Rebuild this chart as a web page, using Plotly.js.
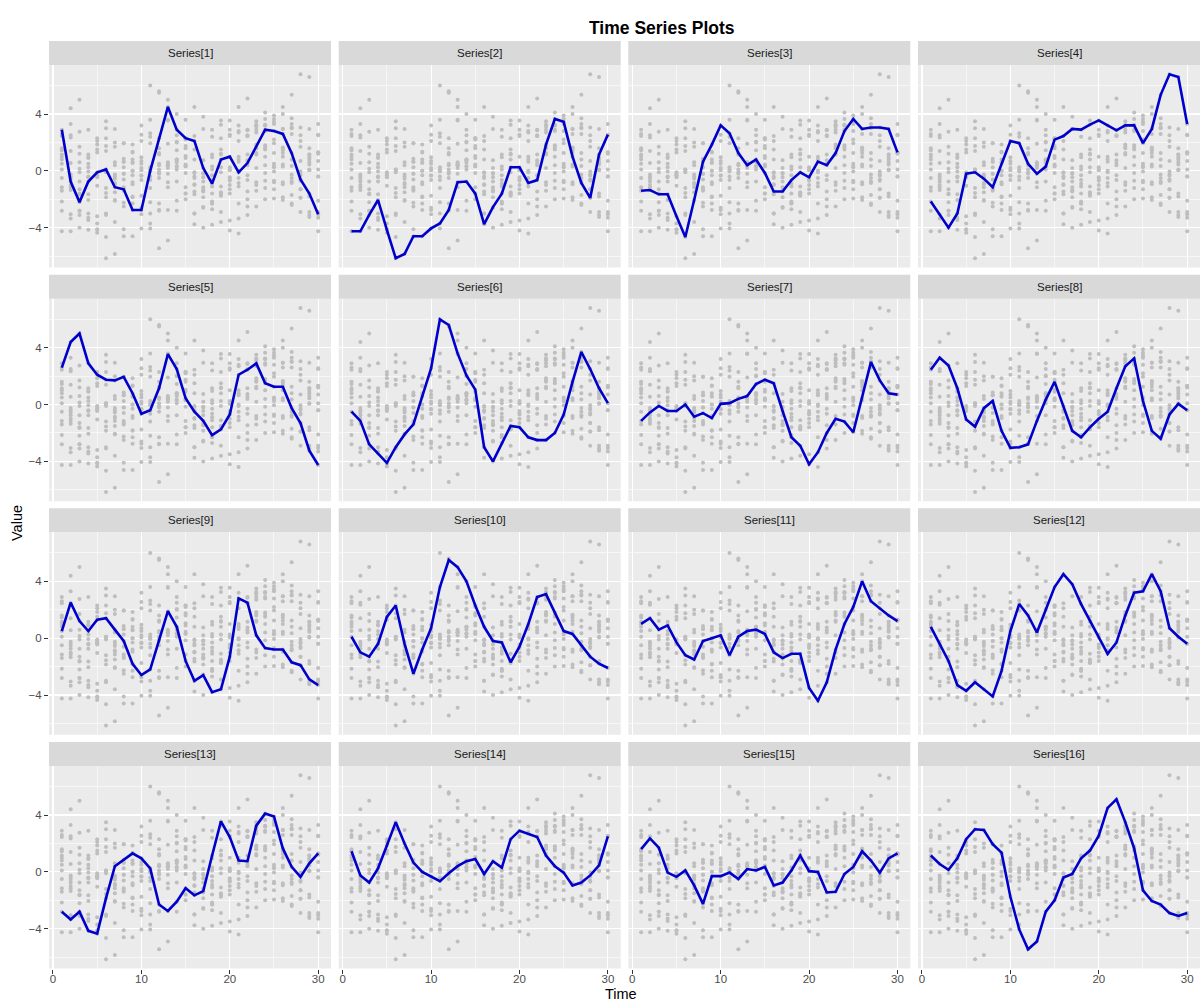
<!DOCTYPE html>
<html>
<head>
<meta charset="utf-8">
<script src="https://cdn.plot.ly/plotly-3.0.1.min.js"></script>
<style>html,body{margin:0;padding:0;background:#fff;}#chart{width:1201px;height:1003px;}</style>
</head>
<body>
<div id="chart"></div>
<script>
// ---- data ----
const time = [1,2,3,4,5,6,7,8,9,10,11,12,13,14,15,16,17,18,19,20,21,22,23,24,25,26,27,28,29,30];
const s1  = [2.9,-0.75,-2.2,-0.75,-0.1,0.1,-1.15,-1.3,-2.75,-2.75,0.0,2.3,4.5,2.9,2.3,2.1,0.2,-0.9,0.8,1.0,-0.1,0.55,1.7,2.9,2.8,2.6,1.25,-0.6,-1.6,-3.05];
const s2  = [-4.25,-4.25,-3.1,-2.05,-4.15,-6.15,-5.85,-4.6,-4.6,-4.05,-3.7,-2.75,-0.8,-0.75,-1.6,-3.75,-2.55,-1.6,0.25,0.25,-0.85,-0.65,1.85,3.65,3.45,1.0,-0.85,-1.9,1.15,2.55];
const s3  = [-1.4,-1.35,-1.65,-1.65,-3.2,-4.65,-2.05,0.65,1.85,3.2,2.65,1.25,0.4,0.8,-0.15,-1.45,-1.45,-0.65,-0.1,-0.45,0.65,0.4,1.25,2.8,3.65,2.95,3.05,3.05,2.95,1.3];
const s4  = [-2.15,-3.05,-4.0,-3.0,-0.2,-0.1,-0.55,-1.15,0.55,2.1,1.95,0.5,-0.2,0.3,2.2,2.45,2.95,2.9,3.25,3.55,3.2,2.85,3.2,3.2,1.95,2.95,5.35,6.8,6.6,3.3];
const s5  = [2.6,4.4,5.0,2.9,2.1,1.75,1.7,1.95,0.8,-0.65,-0.4,1.15,3.55,2.5,0.45,-0.5,-1.15,-2.15,-1.75,-0.7,2.1,2.45,2.9,1.5,1.25,1.25,-0.25,-1.3,-3.25,-4.25];
const s6  = [-0.5,-1.15,-2.8,-3.45,-4.1,-3.0,-2.1,-1.4,0.6,2.55,6.0,5.6,3.6,2.05,1.05,-3.0,-4.0,-2.7,-1.5,-1.6,-2.3,-2.5,-2.5,-2.0,-0.7,1.6,3.7,2.5,1.15,0.1];
const s7  = [-1.15,-0.55,-0.1,-0.45,-0.45,0.0,-0.85,-0.6,-0.95,0.05,0.1,0.4,0.6,1.45,1.75,1.5,-0.45,-2.3,-2.9,-4.2,-3.35,-2.0,-1.0,-1.2,-1.95,0.45,3.0,1.7,0.8,0.7];
const s8  = [2.45,3.3,2.75,1.15,-1.05,-1.55,-0.25,0.25,-1.85,-3.05,-3.0,-2.8,-1.15,0.35,1.6,-0.1,-1.85,-2.3,-1.6,-1.0,-0.5,1.15,2.7,3.25,0.25,-1.85,-2.4,-0.7,0.05,-0.4];
const s9  = [0.5,2.5,1.2,0.5,1.3,1.4,0.6,-0.2,-1.8,-2.6,-2.2,-0.2,1.9,0.8,-1.6,-3.0,-2.6,-3.8,-3.6,-1.3,2.8,2.5,0.2,-0.7,-0.8,-0.8,-1.7,-1.9,-2.9,-3.3];
const s10 = [0.1,-1.0,-1.3,-0.4,1.5,2.3,-0.4,-2.5,-0.8,0.7,3.6,5.5,5.0,4.0,2.3,0.8,-0.2,-0.3,-1.7,-0.6,1.0,2.9,3.1,1.8,0.5,0.3,-0.5,-1.3,-1.8,-2.1];
const s11 = [1.0,1.4,0.6,0.9,-0.3,-1.2,-1.5,-0.2,0.0,0.2,-1.2,0.1,0.5,0.6,0.3,-1.0,-1.4,-1.1,-1.1,-3.5,-4.4,-3.1,-0.8,1.0,2.2,4.0,2.6,2.1,1.6,1.2];
const s12 = [0.8,-0.4,-1.6,-3.3,-3.7,-3.1,-3.6,-4.1,-2.3,0.5,2.4,1.6,0.4,2.0,3.6,4.5,3.8,2.4,1.2,0.1,-1.1,-0.3,1.6,3.2,3.3,4.5,3.3,0.7,0.1,-0.4];
const s13 = [-2.8,-3.35,-2.8,-4.15,-4.35,-1.85,0.4,0.85,1.3,0.95,0.25,-2.3,-2.75,-2.1,-1.15,-1.65,-1.35,1.15,3.55,2.45,0.8,0.75,3.25,4.1,3.9,1.65,0.35,-0.35,0.6,1.3];
const s14 = [1.45,-0.25,-0.75,0.25,1.85,3.5,2.0,0.65,0.0,-0.35,-0.65,-0.1,0.4,0.75,0.9,-0.15,0.75,0.3,2.3,2.9,2.7,2.45,1.15,0.4,-0.05,-0.95,-0.75,-0.25,0.45,2.5];
const s15 = [1.6,2.35,1.7,-0.05,-0.35,0.1,-0.95,-2.25,-0.3,-0.3,-0.05,-0.5,0.2,0.1,0.35,-0.95,-0.75,0.1,1.15,0.05,0.0,-1.45,-1.4,-0.15,0.35,1.45,0.8,-0.05,0.95,1.3];
const s16 = [1.15,0.55,0.15,0.95,2.3,3.0,2.95,1.95,1.35,-1.75,-4.05,-5.45,-4.9,-2.8,-2.0,-0.4,-0.15,0.95,1.5,2.55,4.5,5.1,3.5,1.65,-1.3,-2.05,-2.3,-2.9,-3.1,-2.9];
const seriesNames = ['Series[1]','Series[2]','Series[3]','Series[4]','Series[5]','Series[6]','Series[7]','Series[8]',
                     'Series[9]','Series[10]','Series[11]','Series[12]','Series[13]','Series[14]','Series[15]','Series[16]'];
const xTicks = [0,10,20,30];
const yTicks = [-4,0,4];

const series = [s1,s2,s3,s4,s5,s6,s7,s8,s9,s10,s11,s12,s13,s14,s15,s16];

// all points (background cloud)
const allX = [], allY = [];
series.forEach(s => s.forEach((v,i) => { allX.push(time[i]); allY.push(v); }));

// ---- layout geometry (pixels) ----
const W = 1201, H = 1003;
const colLeft = [49, 338.7, 628.3, 918];
const panelW = 282;
const stripTop = [41, 274.7, 508.3, 742];
const stripH = 24;
const panelH = 202.5;
const px = v => v / W;
const py = v => 1 - v / H;

const FONT = '"Liberation Sans", Arial, sans-serif';
const traces = [];
const layout = {
  width: W, height: H,
  margin: {l:0, r:0, t:0, b:0},
  paper_bgcolor: '#FFFFFF',
  plot_bgcolor: '#EBEBEB',
  showlegend: false,
  font: {family: FONT, color: '#4D4D4D'},
  shapes: [], annotations: []
};

series.forEach((s, k) => {
  const r = Math.floor(k / 4), c = k % 4;
  const n = k + 1;
  const xa = n === 1 ? 'x' : 'x' + n;
  const ya = n === 1 ? 'y' : 'y' + n;
  const xKey = n === 1 ? 'xaxis' : 'xaxis' + n;
  const yKey = n === 1 ? 'yaxis' : 'yaxis' + n;
  const x0 = colLeft[c], x1 = x0 + panelW;
  const pTop = stripTop[r] + stripH, pBot = pTop + panelH;
  const bottomRow = r === 3, leftCol = c === 0;

  layout[xKey] = {
    domain: [px(x0), px(x1)], anchor: ya,
    range: [-0.45, 31.45], tickmode: 'array', tickvals: xTicks,
    showticklabels: bottomRow, ticks: bottomRow ? 'outside' : '', ticklen: 4, tickwidth: 1, tickcolor: '#333333',
    ticklabelstandoff: -4,
    tickfont: {family: FONT, size: 11.5, color: '#4D4D4D'},
    showgrid: true, gridcolor: '#FFFFFF', gridwidth: 1.1, zeroline: false, showline: false,
    minor: {tickmode: 'array', tickvals: [5,15,25], showgrid: true, gridcolor: '#FFFFFF', gridwidth: 0.55, ticks: ''},
    fixedrange: true
  };
  layout[yKey] = {
    domain: [py(pBot), py(pTop)], anchor: xa,
    range: [-6.8, 7.45], tickmode: 'array', tickvals: yTicks,
    showticklabels: leftCol, ticks: leftCol ? 'outside' : '', ticklen: 4, tickwidth: 1, tickcolor: '#333333',
    tickfont: {family: FONT, size: 11.5, color: '#4D4D4D'},
    showgrid: true, gridcolor: '#FFFFFF', gridwidth: 1.1, zeroline: false, showline: false,
    minor: {tickmode: 'array', tickvals: [-6,-2,2,6], showgrid: true, gridcolor: '#FFFFFF', gridwidth: 0.55, ticks: ''},
    fixedrange: true
  };

  traces.push({
    type: 'scatter', mode: 'markers', x: allX, y: allY, xaxis: xa, yaxis: ya,
    marker: {color: '#BEBEBE', size: 4, line: {width: 0}}, hoverinfo: 'skip', cliponaxis: true
  });
  traces.push({
    type: 'scatter', mode: 'lines', x: time, y: s, xaxis: xa, yaxis: ya,
    line: {color: '#0000CD', width: 2.6}, name: seriesNames[k]
  });

  // strip
  layout.shapes.push({
    type: 'rect', xref: 'paper', yref: 'paper', layer: 'below',
    x0: px(x0), x1: px(x1), y0: py(stripTop[r] + stripH), y1: py(stripTop[r]),
    fillcolor: '#D9D9D9', line: {width: 0}
  });
  layout.annotations.push({
    xref: 'paper', yref: 'paper', x: px(x0 + panelW / 2), y: py(stripTop[r] + stripH / 2),
    xanchor: 'center', yanchor: 'middle', showarrow: false,
    text: seriesNames[k], font: {family: FONT, size: 11.5, color: '#1A1A1A'}
  });
});

// titles
layout.annotations.push({
  xref: 'paper', yref: 'paper', x: px(662), y: py(28), xanchor: 'center', yanchor: 'middle', showarrow: false,
  text: '<b>Time Series Plots</b>', font: {family: FONT, size: 17.5, color: '#000000'}
});
layout.annotations.push({
  xref: 'paper', yref: 'paper', x: px(621), y: py(994), xanchor: 'center', yanchor: 'middle', showarrow: false,
  text: 'Time', font: {family: FONT, size: 14.5, color: '#000000'}
});
layout.annotations.push({
  xref: 'paper', yref: 'paper', x: px(17), y: py(523), xanchor: 'center', yanchor: 'middle', showarrow: false,
  text: 'Value', textangle: -90, font: {family: FONT, size: 14.5, color: '#000000'}
});

Plotly.newPlot('chart', traces, layout, {staticPlot: true, displayModeBar: false});
</script>
</body>
</html>
